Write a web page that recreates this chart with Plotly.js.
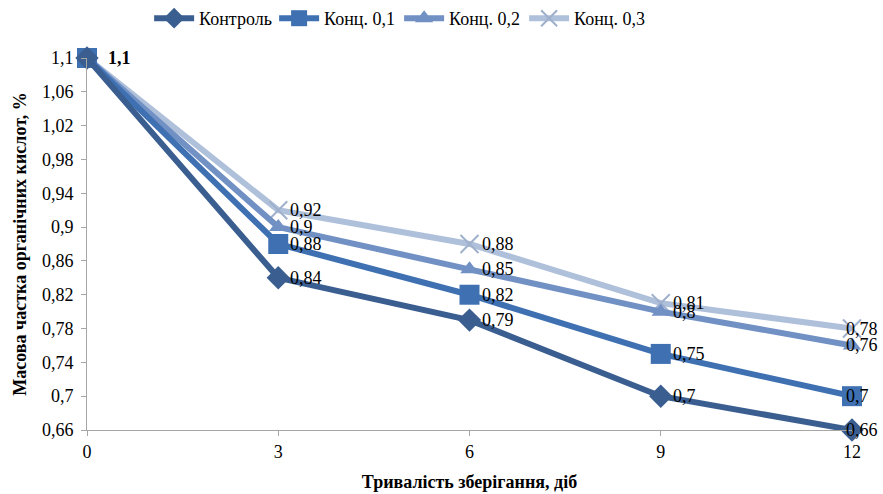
<!DOCTYPE html>
<html>
<head>
<meta charset="utf-8">
<script src="https://cdn.plot.ly/plotly-3.0.1.min.js"></script>
<style>html,body{margin:0;padding:0;background:#fff;}#chart{width:883px;height:494px;}</style>
</head>
<body>
<div id="chart"></div>
<script>
const days = [0, 3, 6, 9, 12];
const seriesNames = ['Контроль', 'Конц. 0,1', 'Конц. 0,2', 'Конц. 0,3'];
const control = [1.1, 0.84, 0.79, 0.70, 0.66];
const conc01 = [1.1, 0.88, 0.82, 0.75, 0.70];
const conc02 = [1.1, 0.90, 0.85, 0.80, 0.76];
const conc03 = [1.1, 0.92, 0.88, 0.81, 0.78];
const yTickVals = [0.66, 0.70, 0.74, 0.78, 0.82, 0.86, 0.90, 0.94, 0.98, 1.02, 1.06, 1.10];
const yTickText = ['0,66', '0,7', '0,74', '0,78', '0,82', '0,86', '0,9', '0,94', '0,98', '1,02', '1,06', '1,1'];
const xTickVals = [0, 3, 6, 9, 12];

const allValues = [control, conc01, conc02, conc03];
const colors = ['#3B5E91', '#3F71B2', '#7190C4', '#AFC0DB'];
const symbols = ['diamond', 'square', 'triangle-up', 'x-thin'];
const msizes = [18, 20, 16, 18];
const FONT = 'Liberation Serif';

function fmt(v) { return String(+v.toFixed(2)).replace('.', ','); }

const traces = allValues.map((vals, i) => ({
  x: days, y: vals, name: seriesNames[i], type: 'scatter', mode: 'lines+markers',
  cliponaxis: false,
  line: {color: colors[i], width: 6},
  marker: {symbol: symbols[i], size: msizes[i], color: colors[i],
           line: {color: i === 3 ? '#9FB0CC' : colors[i], width: i === 3 ? 2 : 0}}
}));
traces.reverse();

const annotations = [];
allValues.forEach((vals, i) => {
  vals.forEach((v, j) => {
    if (j === 0) return;
    const last = j === vals.length - 1;
    annotations.push({x: days[j], y: v, xref: 'x', yref: 'y', text: fmt(v), showarrow: false,
      xanchor: 'left', yanchor: 'middle', xshift: last ? -8 : 10,
      font: {family: FONT, size: 18, color: '#000'}});
  });
});
annotations.push({x: days[0], y: control[0], xref: 'x', yref: 'y', text: '<b>' + fmt(control[0]) + '</b>',
  showarrow: false, xanchor: 'left', yanchor: 'middle', xshift: 19,
  font: {family: FONT, size: 18, color: '#000'}});

const layout = {
  width: 883, height: 494,
  margin: {l: 87, r: 31, t: 58, b: 64},
  paper_bgcolor: '#fff', plot_bgcolor: '#fff',
  font: {family: FONT, size: 17, color: '#000'},
  showlegend: true,
  legend: {orientation: 'h', x: 0.452, xanchor: 'center', xref: 'container', y: 1, yref: 'container', yanchor: 'top',
           font: {family: FONT, size: 18}, traceorder: 'reversed', itemwidth: 40, entrywidth: 70},
  xaxis: {range: [0, 12], tickvals: xTickVals, ticktext: xTickVals.map(String), showgrid: false, zeroline: false,
          showline: true, linecolor: '#A6A6A6', linewidth: 1, ticks: 'outside', ticklen: 5, tickcolor: '#A6A6A6',
          tickfont: {family: FONT, size: 18},
          title: {text: '<b>Тривалість зберігання, діб</b>', font: {family: FONT, size: 18}, standoff: 14}},
  yaxis: {range: [0.66, 1.1], tickvals: yTickVals, ticktext: yTickText, showgrid: false, zeroline: false,
          showline: true, linecolor: '#A6A6A6', linewidth: 1, ticks: 'outside', ticklen: 5, tickcolor: '#A6A6A6',
          tickfont: {family: FONT, size: 18}, ticklabelstandoff: 4,
          title: {text: '<b>Масова частка органічних кислот, %</b>', font: {family: FONT, size: 18}, standoff: 10}},
  annotations: annotations
};

Plotly.newPlot('chart', traces, layout, {displayModeBar: false, staticPlot: true});
</script>
</body>
</html>
